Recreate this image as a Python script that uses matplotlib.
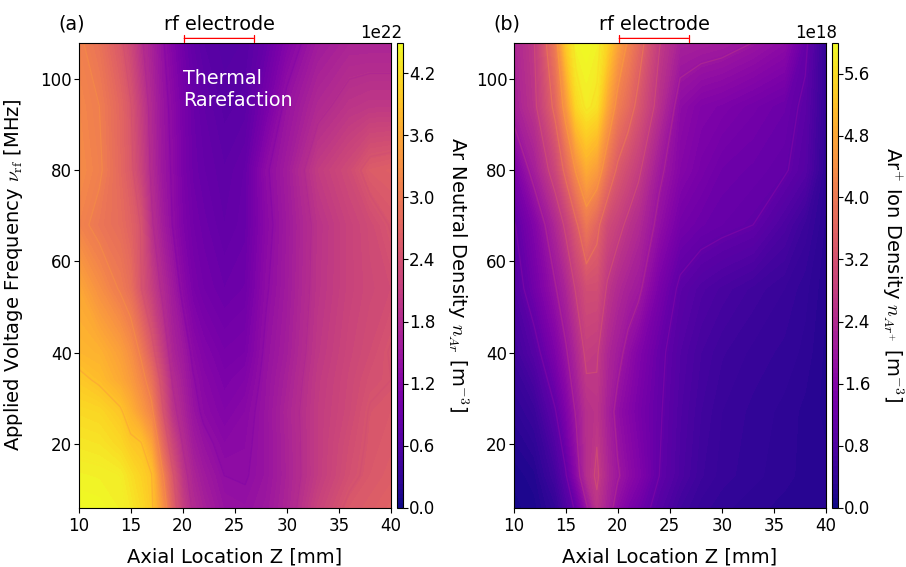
import numpy as np
import matplotlib
matplotlib.use("Agg")
import matplotlib.pyplot as plt

plt.rcParams['mathtext.fontset'] = 'cm'
plt.rcParams['font.size'] = 12

# =============================================================================
# Data (rows = applied frequency, columns = axial location)
# =============================================================================
z_mm = [10, 12, 14, 15, 16, 17, 18, 19, 20, 21, 22, 24, 26, 28, 30, 33, 36, 38, 40]
freq_neutral = [6, 13, 20, 27, 34, 40, 54, 68, 80, 94, 108]
freq_ion = [6, 13, 27, 40, 54, 68, 80, 94, 108]

# Ar neutral density [1e22 m^-3]
neutral_6 = [4.50, 4.48, 4.40, 4.31, 4.17, 3.97, 3.38, 2.67, 2.12, 1.80, 1.65, 1.43, 1.40, 1.50, 1.70, 2.18, 2.52, 2.59, 2.67]
neutral_13 = [4.42, 4.40, 4.36, 4.22, 4.08, 3.92, 3.15, 2.52, 1.98, 1.70, 1.55, 1.35, 1.33, 1.45, 1.67, 2.07, 2.38, 2.52, 2.59]
neutral_20 = [4.30, 4.27, 4.14, 3.98, 3.92, 3.55, 2.81, 2.23, 1.83, 1.57, 1.43, 1.26, 1.30, 1.45, 1.68, 2.07, 2.34, 2.49, 2.55]
neutral_27 = [4.17, 4.13, 3.95, 3.72, 3.45, 3.15, 2.52, 1.96, 1.70, 1.45, 1.30, 1.17, 1.26, 1.45, 1.70, 2.07, 2.28, 2.47, 2.52]
neutral_34 = [3.98, 3.85, 3.62, 3.45, 3.20, 2.87, 2.34, 1.83, 1.61, 1.37, 1.24, 1.10, 1.17, 1.43, 1.65, 2.05, 2.26, 2.40, 2.45]
neutral_40 = [3.78, 3.72, 3.50, 3.30, 3.00, 2.59, 2.12, 1.70, 1.53, 1.29, 1.17, 1.04, 1.08, 1.40, 1.60, 2.01, 2.23, 2.34, 2.47]
neutral_54 = [3.60, 3.30, 3.02, 2.85, 2.46, 2.12, 1.80, 1.55, 1.28, 1.08, 0.99, 0.90, 0.95, 1.32, 1.55, 1.96, 2.18, 2.28, 2.34]
neutral_68 = [3.15, 2.95, 2.82, 2.67, 2.43, 1.90, 1.60, 1.35, 1.13, 0.99, 0.92, 0.81, 0.88, 1.26, 1.53, 1.94, 2.18, 2.31, 2.47]
neutral_80 = [3.25, 3.10, 2.75, 2.53, 2.18, 1.80, 1.50, 1.32, 1.08, 0.93, 0.86, 0.77, 0.86, 1.31, 1.57, 2.07, 2.31, 2.57, 2.62]
neutral_94 = [3.20, 3.05, 2.72, 2.47, 2.09, 1.75, 1.47, 1.28, 1.06, 0.90, 0.81, 0.70, 0.74, 1.04, 1.43, 1.77, 1.96, 2.01, 2.01]
neutral_108 = [3.10, 2.90, 2.52, 2.25, 1.90, 1.65, 1.40, 1.17, 0.95, 0.81, 0.72, 0.65, 0.68, 0.86, 1.17, 1.55, 1.70, 1.70, 1.70]

# Ar+ ion density [1e18 m^-3]
ion_6 = [0.10, 0.15, 0.40, 0.75, 1.14, 1.88, 2.60, 2.20, 1.75, 1.48, 1.28, 0.88, 0.60, 0.45, 0.38, 0.32, 0.28, 0.26, 0.24]
ion_13 = [0.13, 0.22, 0.62, 1.00, 1.68, 2.45, 2.78, 2.33, 2.00, 1.75, 1.55, 1.05, 0.75, 0.55, 0.45, 0.38, 0.32, 0.28, 0.26]
ion_27 = [0.33, 0.50, 1.02, 1.48, 2.00, 2.50, 2.60, 2.20, 1.81, 1.61, 1.41, 1.09, 0.79, 0.60, 0.48, 0.40, 0.34, 0.28, 0.22]
ion_40 = [0.57, 0.88, 1.48, 1.88, 2.33, 2.81, 2.75, 2.33, 2.10, 1.81, 1.55, 1.14, 0.84, 0.66, 0.55, 0.46, 0.40, 0.34, 0.22]
ion_54 = [0.80, 1.30, 1.91, 2.27, 2.75, 3.13, 3.13, 2.65, 2.38, 2.20, 2.05, 1.41, 0.97, 0.80, 0.70, 0.58, 0.48, 0.38, 0.25]
ion_68 = [1.00, 1.55, 2.33, 2.79, 3.36, 3.95, 3.59, 3.07, 2.85, 2.60, 2.38, 1.81, 1.34, 1.21, 1.14, 1.05, 0.75, 0.52, 0.28]
ion_80 = [1.41, 2.15, 2.96, 3.59, 4.31, 4.85, 4.61, 3.89, 3.36, 3.07, 2.79, 2.05, 1.61, 1.41, 1.25, 1.18, 1.09, 0.88, 0.33]
ion_94 = [2.15, 2.60, 3.59, 4.49, 5.51, 5.81, 5.67, 4.79, 4.07, 3.71, 3.30, 2.50, 1.75, 1.55, 1.48, 1.34, 1.21, 0.97, 0.40]
ion_108 = [2.27, 2.70, 4.01, 5.29, 5.92, 6.00, 5.89, 5.45, 4.73, 4.19, 3.71, 2.73, 2.20, 2.15, 2.10, 1.95, 1.75, 1.14, 0.40]

neutral_ticks = [0.0, 0.6, 1.2, 1.8, 2.4, 3.0, 3.6, 4.2]
ion_ticks = [0.0, 0.8, 1.6, 2.4, 3.2, 4.0, 4.8, 5.6]

# contour lines: where they run (same units as the rows) and their colormap position
neutral_lines = [1.35, 1.85, 2.45, 3.05, 3.9, 4.35]
neutral_line_pos = [0.26, 0.38, 0.52, 0.74, 0.78, 0.98]
ion_lines = [1.05, 1.95, 2.7, 3.45, 4.25, 5.05, 5.75]
ion_line_pos = [0.28, 0.42, 0.55, 0.68, 0.78, 0.86, 0.93]

neutral = np.array([neutral_6, neutral_13, neutral_20, neutral_27, neutral_34, neutral_40,
                    neutral_54, neutral_68, neutral_80, neutral_94, neutral_108])
ion = np.array([ion_6, ion_13, ion_27, ion_40, ion_54,
                ion_68, ion_80, ion_94, ion_108])


# =============================================================================
# One panel: filled map, faint contour lines, colorbar and electrode bracket
# =============================================================================
def panel(fig, x0, freq, datos, escala, vmax, ticks, lineas, pos_lineas, letra, cbar_label):
    W, H = 906.0, 567.0
    ax = fig.add_axes([x0 / W, 1 - 507.5 / H, 312.5 / W, 465 / H])
    cax = fig.add_axes([(x0 + 318) / W, 1 - 507.5 / H, 6 / W, 465 / H])

    niveles = np.linspace(0, vmax, 101) * escala
    cf = ax.contourf(z_mm, freq, datos * escala, levels=niveles, cmap='plasma')
    cf.set_antialiased(False)
    colores = plt.get_cmap('plasma')(pos_lineas)
    ax.contour(z_mm, freq, datos * escala, levels=np.array(lineas) * escala, colors=colores,
               alpha=0.55, linewidths=0.9)
    ax.set_xlim(10, 40)
    ax.set_ylim(6, 108)
    ax.set_xticks([10, 15, 20, 25, 30, 35, 40])
    ax.set_yticks([20, 40, 60, 80, 100])
    ax.tick_params(labelsize=12)
    ax.tick_params(axis='y', pad=1)
    ax.set_xlabel('Axial Location Z [mm]', fontsize=14, labelpad=9)

    # electrode bracket above the axes
    ax.annotate('', xy=(20.15, 108.9), xytext=(26.8, 108.9), annotation_clip=False,
                arrowprops=dict(arrowstyle='|-|,widthA=0.2,widthB=0.2', color='red', lw=0.9,
                                shrinkA=0, shrinkB=0))
    ax.text(23.5, 109.8, 'rf electrode', fontsize=13.8, ha='center', va='bottom')
    ax.text(-0.065, 1.019, letra, fontsize=13.8, transform=ax.transAxes, ha='left', va='bottom')

    cb = fig.colorbar(cf, cax=cax, ticks=np.array(ticks) * escala)
    cb.ax.tick_params(labelsize=12, pad=1)
    cb.ax.yaxis.get_offset_text().set_fontsize(12)
    cb.set_label(cbar_label, fontsize=14, rotation=270, labelpad=25)
    return ax


fig = plt.figure(figsize=(9.06, 5.67), dpi=100)

ax_a = panel(fig, 78.5, freq_neutral, neutral, 1e22, 4.5, neutral_ticks, neutral_lines, neutral_line_pos,
             '(a)', r'Ar Neutral Density $n_{Ar}$ [m$^{-3}$]')
ax_a.set_ylabel(r'Applied Voltage Frequency $\nu_{\rm rf}$ [MHz]', fontsize=14)
ax_a.yaxis.set_label_coords(-0.172, 0.5)
ax_a.text(20.0, 93.3, 'Thermal\nRarefaction', color='white', fontsize=13.8, ha='left', va='bottom',
          linespacing=1.15)

ax_b = panel(fig, 513.5, freq_ion, ion, 1e18, 6.0, ion_ticks, ion_lines, ion_line_pos, '(b)',
             r'Ar$^{+}$ Ion Density $n_{Ar^{+}}$ [m$^{-3}$]')

fig.savefig('out.png', dpi=100)
